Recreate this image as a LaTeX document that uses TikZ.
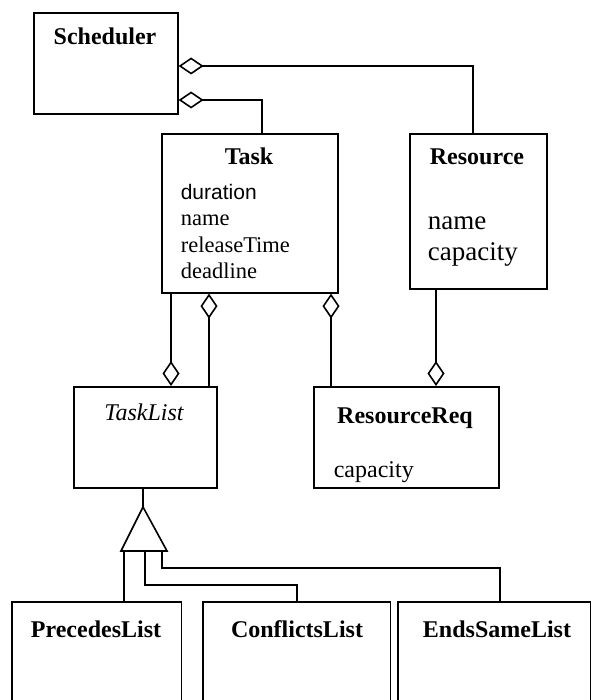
\documentclass[tikz,border=0pt]{standalone}
\usepackage{fontspec}
\setmainfont{Liberation Serif}
\newfontfamily\attrsans{Liberation Sans}
\usetikzlibrary{arrows.meta,calc}
\begin{document}
\begin{tikzpicture}[x=1pt,y=-1pt,line width=1.6pt,
  classbox/.style={draw, rectangle, inner sep=0pt, anchor=north west},
  openbox/.style={rectangle, inner sep=0pt, anchor=north west},
  title/.style={font=\fontsize{24}{28}\selectfont\bfseries, anchor=base, inner sep=0pt},
  abstitle/.style={font=\fontsize{24}{28}\selectfont\itshape, anchor=base, inner sep=0pt},
  attr/.style={font=\fontsize{22.5}{26}\selectfont, anchor=base west, inner sep=0pt},
  attrbig/.style={font=\fontsize{27}{30}\selectfont, anchor=base west, inner sep=0pt},
  attrsf/.style={font=\attrsans\fontsize{21}{26}\selectfont, anchor=base west, inner sep=0pt},
  aggstart/.style={{Diamond[open,length=25pt,width=17pt]}-},
  aggend/.style={-{Diamond[open,length=25pt,width=17pt]}}]
\useasboundingbox (0,0) rectangle (590,700);
\fill[white] (0,0) rectangle (590,700);

% classes
\node[classbox, minimum width=144pt, minimum height=101pt] (sched) at (33,12) {};
\node[classbox, minimum width=176pt, minimum height=159pt] (task) at (161,133) {};
\node[classbox, minimum width=137pt, minimum height=155pt] (res) at (409,133) {};
\node[classbox, minimum width=143pt, minimum height=101pt] (tlist) at (73,386) {};
\node[classbox, minimum width=185pt, minimum height=101pt] (rreq) at (313,386) {};
\node[openbox, minimum width=168pt, minimum height=98pt] (prec) at (12,602) {};
\node[openbox, minimum width=186pt, minimum height=98pt] (conf) at (203,602) {};
\node[openbox, minimum width=191pt, minimum height=98pt] (ends) at (398,602) {};
\foreach \b in {prec,conf,ends}
  \draw (\b.south west) |- (\b.north east) -- (\b.south east);

% class names
\node[title] (tSched) at (105,45) {Scheduler};
\node[title] (tTask) at (249,165) {Task};
\node[title] (tRes) at (477,165) {Resource};
\node[abstitle] (tTlist) at (144,420) {TaskList};
\node[title] (tRreq) at (405,423) {ResourceReq};
\node[title] (tPrec) at (96,637) {PrecedesList};
\node[title] (tConf) at (297,637) {ConflictsList};
\node[title] (tEnds) at (497,637) {EndsSameList};

% attributes
\node[attrsf] (aDur) at (180,200) {duration};
\node[attr] (aName) at (180,226) {name};
\node[attr] (aRel) at (180,252) {releaseTime};
\node[attr] (aDead) at (180,278) {deadline};
\node[attrbig] (aRName) at (427,230) {name};
\node[attrbig] (aRCap) at (427,260) {capacity};
\node[attr, font=\fontsize{24}{28}\selectfont] (aQCap) at (333,477) {capacity};

% aggregations
\draw[aggstart] ([yshift=-54pt]sched.north east) -| ([xshift=-5.5pt]res.north);
\draw[aggstart] ([yshift=-88pt]sched.north east) -| ([xshift=12pt]task.north);
\path ([xshift=10pt]task.south west) coordinate (k1)
      ([xshift=48pt]task.south west) coordinate (k2)
      ([xshift=170pt]task.south west) coordinate (k3)
      ([xshift=27pt]res.south west) coordinate (k4);
\draw[aggend] (k1) -- (k1 |- tlist.north);
\draw[aggstart] (k2) -- (k2 |- tlist.north);
\draw[aggstart] (k3) -- (k3 |- rreq.north);
\draw[aggend] (k4) -- (k4 |- rreq.north);

% generalization
\coordinate (gapex) at (143,507);
\coordinate (gleft) at (121,551);
\coordinate (gright) at (167,551);
\coordinate (g1) at (124,551);
\coordinate (g2) at (145,551);
\coordinate (g3) at (162,551);
\draw (gapex |- tlist.south) -- (gapex);
\draw[line join=miter] (gapex) -- (gleft) -- (gright) -- cycle;
\draw (g1) -- (g1 |- prec.north);
\draw (g2) -- ++(0,34) -| (conf.north);
\draw (g3) -- ++(0,17) -| ([xshift=5.5pt]ends.north);
\end{tikzpicture}
\end{document}
